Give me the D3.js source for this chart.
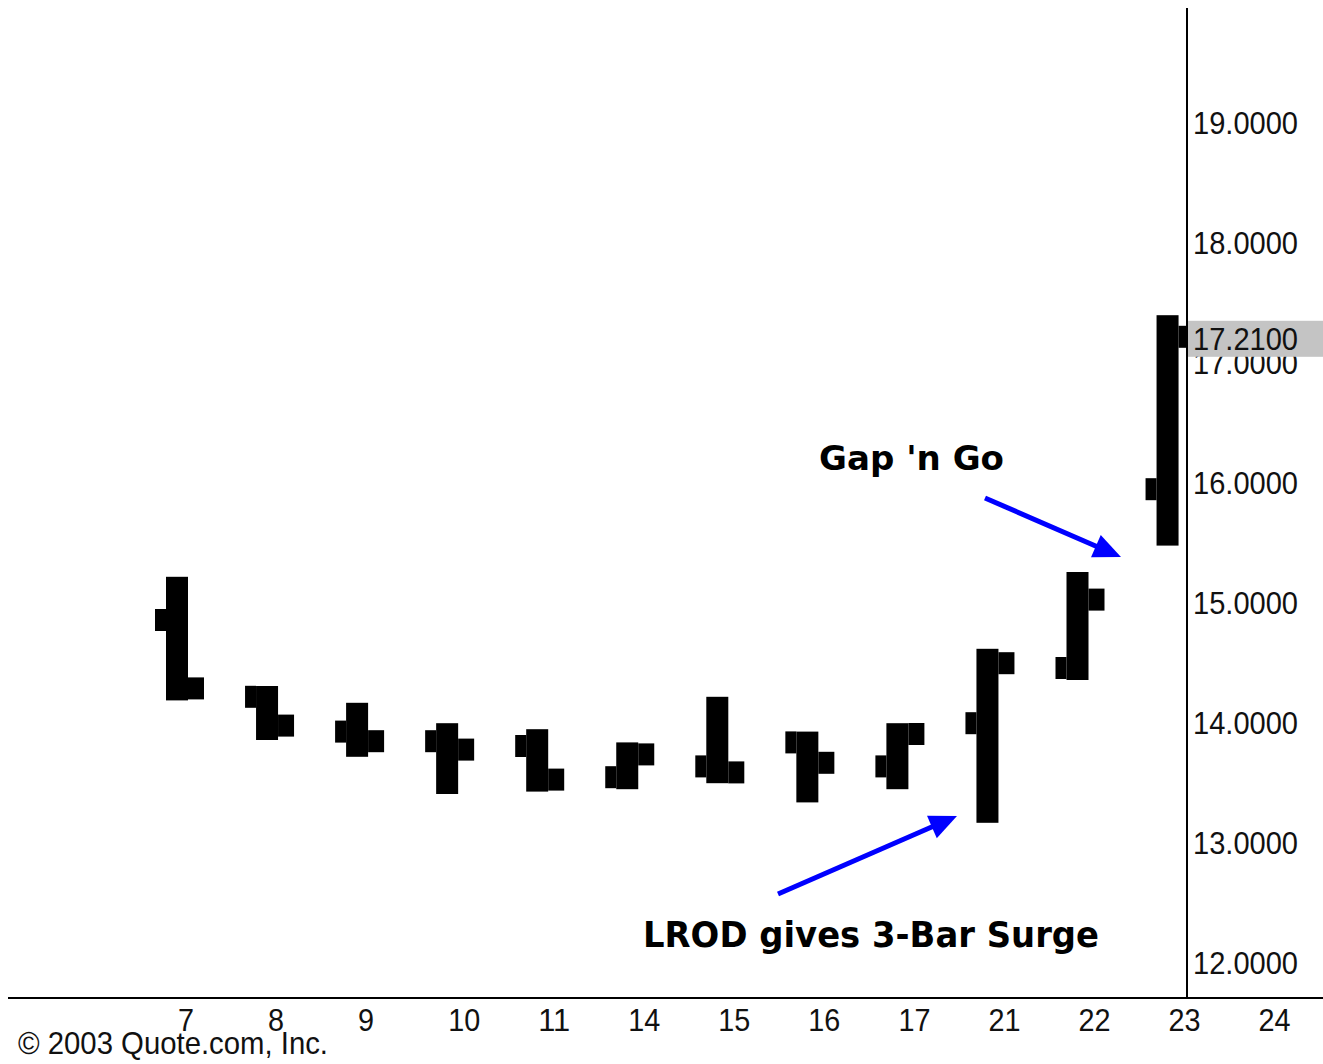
<!DOCTYPE html>
<html>
<head>
<meta charset="utf-8">
<script src="https://cdn.jsdelivr.net/npm/d3@7"></script>
<style>
  body { margin: 0; background: #fff; }
  svg { display: block; }
</style>
</head>
<body>
<div id="chart"></div>
<script>
/****************************** data ***************************************/
var days   = ["7", "8", "9", "10", "11", "14", "15", "16", "17", "21", "22", "23", "24"];
var barDays = ["7", "8", "9", "10", "11", "14", "15", "16", "17", "21", "22", "23"];
var opens  = [14.85, 14.21, 13.92, 13.84, 13.80, 13.54, 13.63, 13.83, 13.63, 13.99, 14.45, 15.94];
var highs  = [15.21, 14.30, 14.16, 13.99, 13.94, 13.83, 14.21, 13.92, 13.99, 14.61, 15.25, 17.39];
var lows   = [14.18, 13.85, 13.71, 13.40, 13.42, 13.44, 13.49, 13.33, 13.44, 13.16, 14.35, 15.47];
var closes = [14.28, 13.97, 13.84, 13.77, 13.52, 13.73, 13.58, 13.66, 13.90, 14.49, 15.02, 17.21];
var priceTicks = [12, 13, 14, 15, 16, 17, 18, 19];
var lastPrice = 17.21;

/****************************** draw ***************************************/
var width = 1323,
	height = 1064;

var svg = d3.select("#chart").append("svg")
	.attr("width", width)
	.attr("height", height)
	.style("background-color", "white");

var x = d3.scalePoint()
	.domain(days)
	.range([177, 1257.6]);

var y = d3.scaleLinear()
	.domain([12, 19])
	.range([962, 122]);

var axisX = 1187, axisY = 998;
var half = 11, tickH = 22;

svg.append("clipPath").attr("id", "plot")
	.append("rect")
	.attr("x", 0).attr("y", 0)
	.attr("width", axisX).attr("height", axisY);

var bars = barDays.map(function(d, i) {
	return {day: d, o: opens[i], h: highs[i], l: lows[i], c: closes[i]};
});

var ng = svg.append("g").attr("clip-path", "url(#plot)");

var bar = ng.selectAll(".bar")
	.data(bars)
	.enter().append("g")
	.attr("class", "bar");

// body high -> low
bar.append("rect")
	.attr("x", function(d) { return x(d.day) - half; })
	.attr("y", function(d) { return y(d.h); })
	.attr("width", half * 2)
	.attr("height", function(d) { return y(d.l) - y(d.h); })
	.style("fill", "#000");

// open tick, left
bar.append("rect")
	.attr("x", function(d) { return x(d.day) - half - 11; })
	.attr("y", function(d) { return y(d.o) - tickH / 2; })
	.attr("width", 11)
	.attr("height", tickH)
	.style("fill", "#000");

// close tick, right
bar.append("rect")
	.attr("x", function(d) { return x(d.day) + half; })
	.attr("y", function(d) { return y(d.c) - tickH / 2; })
	.attr("width", 16)
	.attr("height", tickH)
	.style("fill", "#000");

// price axis labels
var yAxis = svg.append("g")
	.attr("transform", "translate(" + axisX + ",0)")
	.call(d3.axisRight(y).tickValues(priceTicks).tickSize(0).tickPadding(6).tickFormat(d3.format(".4f")));
yAxis.select(".domain").remove();
yAxis.selectAll("text")
	.attr("dy", "0.36em")
	.attr("textLength", 105)
	.attr("lengthAdjust", "spacingAndGlyphs")
	.style("font-family", "'Liberation Sans', Arial, sans-serif")
	.style("font-size", "32px")
	.style("fill", "#111");

// last price marker
svg.append("rect")
	.attr("x", axisX + 1)
	.attr("y", y(lastPrice) - 16)
	.attr("width", width - axisX - 1)
	.attr("height", 36)
	.style("fill", "#c4c4c4");

svg.append("text")
	.attr("x", axisX + 6)
	.attr("y", y(lastPrice) + 2)
	.attr("dy", "0.36em")
	.attr("textLength", 105)
	.attr("lengthAdjust", "spacingAndGlyphs")
	.style("font-family", "'Liberation Sans', Arial, sans-serif")
	.style("font-size", "32px")
	.style("fill", "#111")
	.text(d3.format(".4f")(lastPrice));

// axis lines
svg.append("line")
	.attr("x1", 8).attr("x2", width)
	.attr("y1", axisY).attr("y2", axisY)
	.style("stroke", "#000").style("stroke-width", 2);
svg.append("line")
	.attr("x1", axisX).attr("x2", axisX)
	.attr("y1", 8).attr("y2", axisY)
	.style("stroke", "#000").style("stroke-width", 2);

// date labels
svg.selectAll(".day")
	.data(days)
	.enter().append("text")
	.attr("class", "day")
	.attr("x", function(d) { return x(d) + 1; })
	.attr("y", 1031)
	.attr("textLength", function(d) { return d.length * 16; })
	.attr("lengthAdjust", "spacingAndGlyphs")
	.style("font-family", "'Liberation Sans', Arial, sans-serif")
	.style("font-size", "32px")
	.style("fill", "#111")
	.text(function(d) { return d; });

svg.append("text")
	.attr("x", 18)
	.attr("y", 1054)
	.attr("textLength", 310)
	.attr("lengthAdjust", "spacingAndGlyphs")
	.style("font-family", "'Liberation Sans', Arial, sans-serif")
	.style("font-size", "32px")
	.style("fill", "#111")
	.text("\u00a9 2003 Quote.com, Inc.");

/****************************** annotations ********************************/
svg.append("text")
	.attr("x", 819)
	.attr("y", 470)
	.attr("textLength", 185)
	.attr("lengthAdjust", "spacingAndGlyphs")
	.style("font-family", "'DejaVu Sans', sans-serif")
	.style("font-weight", "bold")
	.style("font-size", "34px")
	.style("fill", "#000")
	.text("Gap 'n Go");

svg.append("text")
	.attr("x", 643)
	.attr("y", 947)
	.attr("textLength", 456)
	.attr("lengthAdjust", "spacingAndGlyphs")
	.style("font-family", "'DejaVu Sans', sans-serif")
	.style("font-weight", "bold")
	.style("font-size", "36px")
	.style("fill", "#000")
	.text("LROD gives 3-Bar Surge");

function arrow(x1, y1, x2, y2) {
	var ang = Math.atan2(y2 - y1, x2 - x1), len = 30, spread = 0.42;
	svg.append("line")
		.attr("x1", x1).attr("y1", y1)
		.attr("x2", x2 - Math.cos(ang) * 12).attr("y2", y2 - Math.sin(ang) * 12)
		.style("stroke", "#0000ff").style("stroke-width", 5);
	var p1 = [x2 - len * Math.cos(ang - spread), y2 - len * Math.sin(ang - spread)];
	var p2 = [x2 - len * Math.cos(ang + spread), y2 - len * Math.sin(ang + spread)];
	svg.append("path")
		.attr("d", "M" + x2 + "," + y2 + "L" + p1 + "L" + p2 + "Z")
		.style("fill", "#0000ff");
}
arrow(985, 498, 1121, 557);
arrow(778, 894, 957, 816);
</script>
</body>
</html>
